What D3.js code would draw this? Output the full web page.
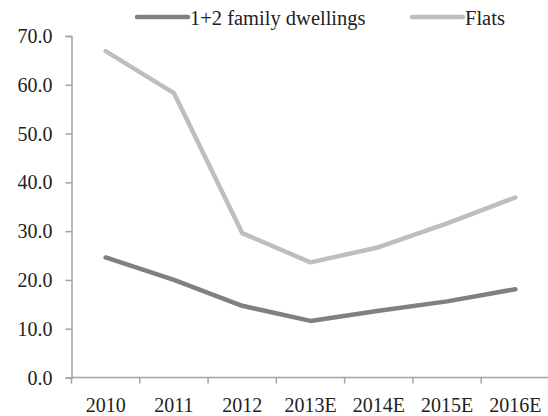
<!DOCTYPE html>
<html>
<head>
<meta charset="utf-8">
<script src="https://cdn.jsdelivr.net/npm/d3@7"></script>
<style>
  html, body { margin: 0; padding: 0; background: #fff; }
  svg { display: block; font-family: "Liberation Serif", "Times New Roman", serif; }
</style>
</head>
<body>
<svg id="chart" width="548" height="416"></svg>
<script>
// Housing starts by type, thousands of units
const years = ["2010", "2011", "2012", "2013E", "2014E", "2015E", "2016E"];
const familyDwellings = [24.6, 20.0, 14.7, 11.6, 13.7, 15.6, 18.1];
const flats = [66.9, 58.3, 29.6, 23.6, 26.7, 31.6, 36.9];
const yTicks = [0, 10, 20, 30, 40, 50, 60, 70];

const seriesNames = ["1+2 family dwellings", "Flats"];
const seriesColors = ["#808084", "#bebec0"];

const svg = d3.select("#chart");
const plotLeft = 71.5, plotRight = 549.5, plotTop = 36, plotBottom = 377.5;

const x = d3.scaleBand().domain(years).range([plotLeft, plotRight]);
const y = d3.scaleLinear().domain([0, 70]).range([plotBottom, plotTop]);

const axisColor = "#a3a3a5";
const textFont = "Liberation Serif";

// Y axis
const yAxis = svg.append("g")
  .attr("transform", `translate(${plotLeft},0)`)
  .call(d3.axisLeft(y).tickValues(yTicks).tickFormat(d3.format(".1f")).tickSize(6).tickPadding(13));
yAxis.select(".domain").attr("stroke", axisColor).attr("stroke-width", 1.5);
yAxis.selectAll(".tick line").attr("stroke", axisColor).attr("stroke-width", 1.5);
yAxis.selectAll(".tick text")
  .attr("fill", "#222").attr("font-size", 20).attr("font-family", textFont)
  .attr("dy", "0.33em");

// X axis: labels centred in each band, ticks on band edges
const xAxis = svg.append("g")
  .attr("transform", `translate(0,${plotBottom})`)
  .call(d3.axisBottom(x).tickSize(0).tickPadding(0));
xAxis.select(".domain").remove();
xAxis.selectAll(".tick text")
  .attr("y", 34.5).attr("dy", null)
  .attr("fill", "#222").attr("font-size", 20).attr("font-family", textFont);
svg.append("line")
  .attr("x1", plotLeft).attr("x2", 548).attr("y1", plotBottom).attr("y2", plotBottom)
  .attr("stroke", axisColor).attr("stroke-width", 1.5);
svg.append("g").selectAll("line")
  .data(years)
  .join("line")
  .attr("x1", d => x(d)).attr("x2", d => x(d))
  .attr("y1", plotBottom).attr("y2", plotBottom + 6)
  .attr("stroke", axisColor).attr("stroke-width", 1.5);

// Lines
const line = d3.line()
  .x((d, i) => x(years[i]) + x.bandwidth() / 2)
  .y(d => y(d));

[familyDwellings, flats].forEach((vals, k) => {
  svg.append("path")
    .datum(vals)
    .attr("d", line)
    .attr("fill", "none")
    .attr("stroke", seriesColors[k])
    .attr("stroke-width", 4.5)
    .attr("stroke-linejoin", "round")
    .attr("stroke-linecap", "round");
});

// Legend
const legendPos = [137, 412];
seriesNames.forEach((name, k) => {
  const g = svg.append("g").attr("transform", `translate(${legendPos[k]},17)`);
  g.append("line")
    .attr("x1", 0).attr("x2", 51).attr("y1", 0).attr("y2", 0)
    .attr("stroke", seriesColors[k]).attr("stroke-width", 4.5)
    .attr("stroke-linecap", "round");
  g.append("text")
    .attr("x", 53).attr("y", 7.5)
    .attr("font-size", 20.5).attr("font-family", textFont).attr("fill", "#222")
    .text(name);
});
</script>
</body>
</html>
